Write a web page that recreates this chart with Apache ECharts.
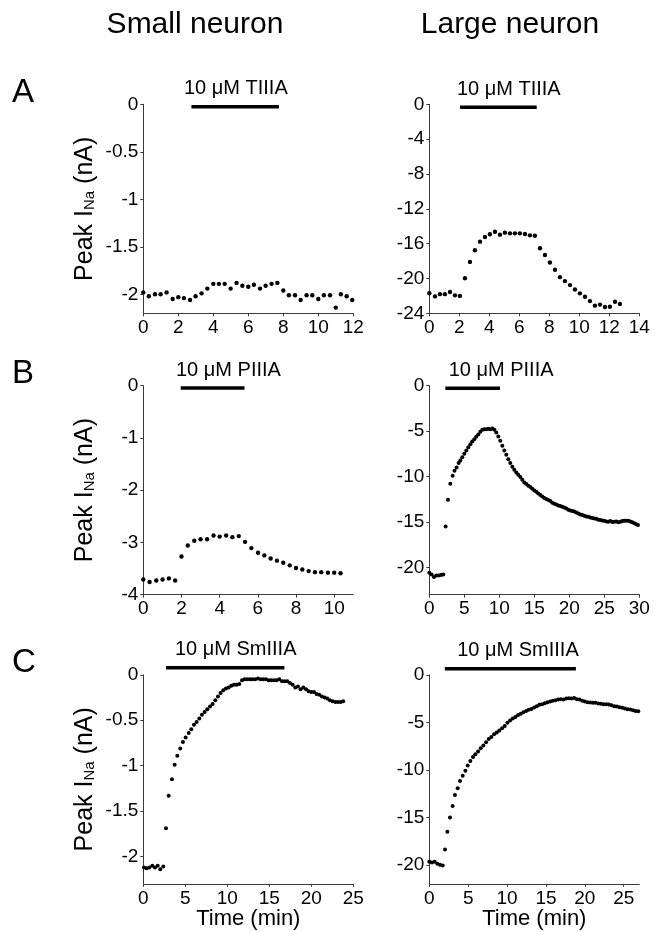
<!DOCTYPE html>
<html><head><meta charset="utf-8">
<script src="https://cdn.jsdelivr.net/npm/echarts@6/dist/echarts.min.js"></script>
<style>html,body{margin:0;padding:0;background:#fff}#c{width:664px;height:932px}</style>
</head><body><div id="c"></div>
<script>
// ---------------- DATA ----------------
const columnTitles = ['Small neuron', 'Large neuron'];
const rowLetters = ['A', 'B', 'C'];
const drugLabels = ['10 μM TIIIA', '10 μM PIIIA', '10 μM SmIIIA'];
const yAxisName = ['Peak I', 'Na', ' (nA)'];
const xAxisName = 'Time (min)';

// A: TIIIA, small neuron
const smallTIIIA_t = [0,0.32,0.67,0.99,1.33,1.68,2.0,2.32,2.67,2.99,3.33,3.66,4.0,4.32,4.65,4.99,5.33,5.66,6.0,6.32,6.67,6.99,7.33,7.66,8.0,8.32,8.67,8.99,9.33,9.66,10.0,10.32,10.67,11.0,11.29,11.62,11.94];
const smallTIIIA_I = [-1.98,-2.02,-2.0,-2.0,-1.98,-2.05,-2.03,-2.04,-2.06,-2.02,-1.99,-1.94,-1.89,-1.89,-1.89,-1.94,-1.88,-1.91,-1.92,-1.90,-1.94,-1.91,-1.89,-1.88,-1.96,-2.01,-2.01,-2.06,-2.01,-2.01,-2.05,-2.01,-2.01,-2.14,-2.0,-2.02,-2.06];
const smallTIIIA_bar = [2.75, 7.75];
// A: TIIIA, large neuron
const largeTIIIA_t = [0,0.38,0.71,1.04,1.38,1.71,2.04,2.38,2.71,3.04,3.38,3.71,4.04,4.38,4.71,5.04,5.38,5.71,6.04,6.38,6.71,7.04,7.38,7.71,8.04,8.38,8.71,9.04,9.38,9.71,10.04,10.38,10.71,11.04,11.38,11.71,12.04,12.38,12.71];
const largeTIIIA_I = [-21.7,-22.06,-21.8,-21.8,-21.56,-21.94,-22.0,-19.98,-18.1,-16.76,-15.77,-15.24,-14.93,-14.63,-14.97,-14.74,-14.82,-14.82,-14.82,-14.9,-15.05,-15.09,-16.53,-17.3,-18.17,-19.0,-19.85,-20.3,-20.76,-21.26,-21.71,-22.1,-22.6,-23.12,-23.0,-23.28,-23.24,-22.67,-22.93];
const largeTIIIA_bar = [2.05, 7.16];
// B: PIIIA, small neuron
const smallPIIIA_t = [0,0.33,0.68,1.01,1.34,1.67,2.0,2.33,2.67,3.0,3.34,3.68,4.0,4.34,4.67,5.0,5.33,5.66,6.01,6.34,6.67,7.0,7.33,7.67,8.0,8.33,8.66,8.99,9.32,9.67,10.0,10.33];
const smallPIIIA_I = [-3.71,-3.76,-3.73,-3.71,-3.69,-3.73,-3.27,-3.06,-2.97,-2.94,-2.94,-2.87,-2.89,-2.87,-2.90,-2.88,-2.99,-3.11,-3.20,-3.25,-3.31,-3.35,-3.39,-3.44,-3.49,-3.52,-3.55,-3.57,-3.57,-3.58,-3.58,-3.59];
const smallPIIIA_bar = [1.96, 5.3];
// B: PIIIA, large neuron
const largePIIIA_t = [0,0.33,0.67,1.0,1.33,1.67,2.0,2.33,2.67,3.0,3.33,3.6,3.9,4.19,4.43,4.71,5.0,5.29,5.57,5.86,6.14,6.43,6.71,7.0,7.29,7.57,7.86,8.14,8.43,8.71,9.0,9.29,9.57,9.86,10.14,10.43,10.71,11.0,11.29,11.57,11.86,12.14,12.43,12.71,13.0,13.29,13.57,13.86,14.14,14.43,14.71,15.0,15.29,15.57,15.86,16.14,16.43,16.71,17.0,17.29,17.57,17.86,18.14,18.43,18.71,19.0,19.29,19.57,19.86,20.14,20.43,20.71,21.0,21.29,21.57,21.86,22.14,22.43,22.71,23.0,23.29,23.57,23.86,24.14,24.43,24.71,25.0,25.29,25.57,25.86,26.14,26.43,26.71,27.0,27.29,27.57,27.86,28.14,28.43,28.71,29.0,29.29,29.57,29.81];
const largePIIIA_I = [-20.6,-20.8,-21.06,-20.9,-20.9,-20.85,-20.8,
 -15.5,-12.56,-10.8,-9.93,-9.38,-9.0,-8.53,-8.24,-7.88,-7.51,
 -7.14,-6.78,-6.45,-6.15,-5.9,-5.64,-5.38,-5.09,-4.87,-4.8,
 -4.8,-4.76,-4.8,-4.73,-4.87,-5.16,-5.6,-6.08,-6.63,-7.14,
 -7.62,-8.1,-8.53,-8.94,-9.27,-9.56,-9.82,-10.07,-10.37,-10.66,
 -10.84,-11.03,-11.17,-11.36,-11.54,-11.68,-11.87,-12.05,-12.2,-12.38,
 -12.49,-12.6,-12.71,-12.89,-13.0,-13.08,-13.19,-13.26,-13.33,-13.41,
 -13.52,-13.66,-13.74,-13.81,-13.85,-13.96,-14.07,-14.18,-14.25,-14.32,
 -14.4,-14.43,-14.51,-14.58,-14.62,-14.65,-14.76,-14.8,-14.84,-14.87,
 -14.95,-14.98,-14.91,-15.02,-14.98,-14.95,-15.05,-14.98,-14.91,-14.87,
 -14.87,-14.87,-14.95,-15.05,-15.16,-15.27,-15.35];
const largePIIIA_bar = [2.29, 10.1];
// C: SmIIIA, small neuron
const smallSmIIIA_t = [0.08,0.4,0.71,1.07,1.39,1.71,2.02,2.38,2.7,3.02,3.41,3.73,4.05,4.4,4.72,5.04,5.4,5.71,6.03,6.35,6.67,6.98,7.3,7.62,7.94,8.25,8.57,8.89,9.2,9.52,9.84,10.16,10.48,10.79,11.11,11.43,11.75,12.06,12.38,12.7,13.0,13.33,13.65,13.97,14.29,14.6,14.92,15.24,15.56,15.87,16.19,16.51,16.83,17.14,17.46,17.78,18.1,18.41,18.73,19.05,19.37,19.68,20.0,20.32,20.63,20.95,21.27,21.59,21.9,22.22,22.54,22.86,23.17,23.5,23.8];
const smallSmIIIA_I = [-2.12,-2.13,-2.12,-2.10,-2.12,-2.10,-2.14,-2.11,-1.69,-1.33,-1.15,-0.99,-0.89,-0.81,-0.74,-0.69,-0.64,-0.60,-0.55,-0.52,-0.48,-0.44,-0.41,-0.38,-0.35,-0.32,-0.28,-0.24,-0.20,-0.17,-0.15,-0.14,-0.12,-0.11,-0.11,-0.10,-0.06,-0.05,-0.05,-0.05,-0.05,-0.05,-0.04,-0.05,-0.05,-0.05,-0.06,-0.06,-0.06,-0.06,-0.05,-0.07,-0.07,-0.07,-0.09,-0.11,-0.14,-0.13,-0.16,-0.14,-0.16,-0.18,-0.19,-0.19,-0.21,-0.22,-0.24,-0.25,-0.26,-0.28,-0.29,-0.30,-0.30,-0.30,-0.29];
const smallSmIIIA_bar = [2.7, 16.8];
// C: SmIIIA, large neuron
const largeSmIIIA_t = [0,0.34,0.69,1.03,1.37,1.72,2.02,2.32,2.66,3.0,3.3,3.65,3.95,4.29,4.64,4.94,5.28,5.62,5.92,6.27,6.61,6.95,7.3,7.64,7.98,8.33,8.67,9.01,9.36,9.7,10.04,10.39,10.73,11.07,11.42,11.76,12.1,12.45,12.79,13.13,13.48,13.82,14.16,14.51,14.85,15.19,15.54,15.88,16.22,16.57,16.91,17.25,17.6,17.94,18.28,18.63,18.97,19.31,19.66,20.0,20.34,20.69,21.03,21.37,21.72,22.06,22.4,22.75,23.09,23.43,23.78,24.12,24.46,24.81,25.15,25.49,25.84,26.18,26.52,26.87];
const largeSmIIIA_I = [-19.68,-19.75,-19.68,-19.9,-20.0,-20.07,-18.38,-16.52,-15.01,-13.81,-12.65,-11.95,-11.18,-10.62,-10.09,-9.56,-9.07,-8.65,-8.37,-8.08,-7.73,-7.45,-7.1,-6.75,-6.54,-6.26,-6.08,-5.87,-5.62,-5.38,-5.06,-4.82,-4.6,-4.43,-4.22,-4.11,-3.94,-3.8,-3.69,-3.59,-3.44,-3.3,-3.16,-3.09,-2.99,-2.88,-2.81,-2.74,-2.67,-2.6,-2.57,-2.6,-2.5,-2.46,-2.5,-2.43,-2.57,-2.6,-2.74,-2.81,-2.88,-2.92,-2.95,-2.95,-3.02,-3.06,-3.09,-3.09,-3.13,-3.2,-3.3,-3.34,-3.41,-3.48,-3.55,-3.62,-3.66,-3.73,-3.8,-3.83];
const largeSmIIIA_bar = [2.0, 18.85];

// tick values
const xTicks_A_small = [0,2,4,6,8,10,12];
const xTicks_A_large = [0,2,4,6,8,10,12,14];
const xTicks_B_small = [0,2,4,6,8,10];
const xTicks_B_large = [0,5,10,15,20,25,30];
const xTicks_C_small = [0,5,10,15,20,25];
const xTicks_C_large = [0,5,10,15,20,25];
const yTicks_A_small = [0,-0.5,-1,-1.5,-2];
const yTicks_A_large = [0,-4,-8,-12,-16,-20,-24];
const yTicks_B_small = [0,-1,-2,-3,-4];
const yTicks_B_large = [0,-5,-10,-15,-20];
const yTicks_C_small = [0,-0.5,-1,-1.5,-2];
const yTicks_C_large = [0,-5,-10,-15,-20];

// ---------------- LAYOUT / STYLE ----------------
const FONT = '"Liberation Sans", Arial, sans-serif';
const AX = '#3a3a3a';
const GW = 210, GH = 209;
const panels = [
 {t:smallTIIIA_t, v:smallTIIIA_I, bar:smallTIIIA_bar, lab:drugLabels[0], labX:5.29, barY:-0.025, left:143.3, top:104.3, xMax:12, xT:xTicks_A_small, yMin:-2.2, yT:yTicks_A_small, yName:true, xName:false, size:4.4},
 {t:largeTIIIA_t, v:largeTIIIA_I, bar:largeTIIIA_bar, lab:drugLabels[0], labX:5.3, barY:-0.34, left:429.3, top:104.3, xMax:14, xT:xTicks_A_large, yMin:-24, yT:yTicks_A_large, yName:false, xName:false, size:4.4},
 {t:smallPIIIA_t, v:smallPIIIA_I, bar:smallPIIIA_bar, lab:drugLabels[1], labX:4.46, barY:-0.048, left:143.3, top:385.6, xMax:11, xT:xTicks_B_small, yMin:-4, yT:yTicks_B_small, yName:true, xName:false, size:4.4},
 {t:largePIIIA_t, v:largePIIIA_I, bar:largePIIIA_bar, lab:drugLabels[1], labX:10.26, barY:-0.29, left:429.3, top:385.6, xMax:30, xT:xTicks_B_large, yMin:-23, yT:yTicks_B_large, yName:false, xName:false, size:4},
 {t:smallSmIIIA_t, v:smallSmIIIA_I, bar:smallSmIIIA_bar, lab:drugLabels[2], labX:11.0, barY:0.077, left:143.3, top:674.8, xMax:25, xT:xTicks_C_small, yMin:-2.3, yT:yTicks_C_small, yName:true, xName:true, size:4},
 {t:largeSmIIIA_t, v:largeSmIIIA_I, bar:largeSmIIIA_bar, lab:drugLabels[2], labX:11.4, barY:0.63, left:429.3, top:674.8, xMax:27, xT:xTicks_C_large, yMin:-22, yT:yTicks_C_large, yName:false, xName:true, size:4}
];

const grid = [], xAxis = [], yAxis = [], series = [];
panels.forEach((p, i) => {
  grid.push({left:p.left, top:p.top, width:GW, height:GH, outerBoundsMode:'none', containLabel:false});
  xAxis.push({
    gridIndex:i, type:'value', min:0, max:p.xMax,
    axisLine:{show:true, onZero:false, lineStyle:{color:AX, width:1}},
    axisTick:{show:true, length:3, customValues:p.xT, lineStyle:{color:AX}},
    axisLabel:{customValues:p.xT, margin:5, fontSize:19, color:'#000', fontFamily:FONT},
    splitLine:{show:false},
    name: p.xName ? xAxisName : '', nameLocation:'middle', nameGap:24, nameMoveOverlap:false,
    nameTextStyle:{fontSize:22, color:'#000', fontFamily:FONT}
  });
  yAxis.push({
    gridIndex:i, type:'value', min:p.yMin, max:0,
    axisLine:{show:true, onZero:false, lineStyle:{color:AX, width:1}},
    axisTick:{show:true, length:3, customValues:p.yT, lineStyle:{color:AX}},
    axisLabel:{customValues:p.yT, margin:5, fontSize:19, color:'#000', fontFamily:FONT},
    splitLine:{show:false},
    name: p.yName ? ('{m|' + yAxisName[0] + '}{s|' + yAxisName[1] + '}{m|' + yAxisName[2] + '}') : '',
    nameLocation:'middle', nameGap:46, nameMoveOverlap:false,
    nameTextStyle:{fontSize:25, color:'#000', fontFamily:FONT,
      rich:{m:{fontSize:25, fontFamily:FONT, color:'#000', lineHeight:25, verticalAlign:'middle'},
            s:{fontSize:15, fontFamily:FONT, color:'#000', lineHeight:8, verticalAlign:'bottom'}}}
  });
  series.push({
    type:'scatter', xAxisIndex:i, yAxisIndex:i, clip:false, silent:true,
    symbol:'circle', symbolSize:p.size, itemStyle:{color:'#000', opacity:1},
    data:p.t.map((x, k) => [x, p.v[k]])
  });
  series.push({
    type:'line', xAxisIndex:i, yAxisIndex:i, clip:false, silent:true, symbol:'none',
    lineStyle:{color:'#000', width:3.5, cap:'butt', opacity:1},
    data:[[p.bar[0], p.barY],[p.bar[1], p.barY]]
  });
  series.push({
    type:'scatter', xAxisIndex:i, yAxisIndex:i, clip:false, silent:true,
    symbolSize:0, itemStyle:{opacity:1, color:'#000'}, data:[[p.labX, p.barY]],
    label:{show:true, position:'top', distance:8, formatter:p.lab, fontSize:20, color:'#000', opacity:1,
           textBorderWidth:0, fontFamily:FONT}
  });
});

const graphic = [
  {type:'text', style:{text:columnTitles[0], x:195, y:25, align:'center', verticalAlign:'middle', fontSize:30, fontFamily:FONT, fill:'#000'}},
  {type:'text', style:{text:columnTitles[1], x:510, y:25, align:'center', verticalAlign:'middle', fontSize:30, fontFamily:FONT, fill:'#000'}},
  {type:'text', style:{text:rowLetters[0], x:12, y:92.5, align:'left', verticalAlign:'middle', fontSize:33, fontFamily:FONT, fill:'#000'}},
  {type:'text', style:{text:rowLetters[1], x:12, y:373.8, align:'left', verticalAlign:'middle', fontSize:33, fontFamily:FONT, fill:'#000'}},
  {type:'text', style:{text:rowLetters[2], x:12, y:663, align:'left', verticalAlign:'middle', fontSize:33, fontFamily:FONT, fill:'#000'}}
];

const chart = echarts.init(document.getElementById('c'), null, {renderer:'canvas'});
chart.setOption({animation:false, backgroundColor:'#fff', grid, xAxis, yAxis, series, graphic});
</script>
</body></html>
